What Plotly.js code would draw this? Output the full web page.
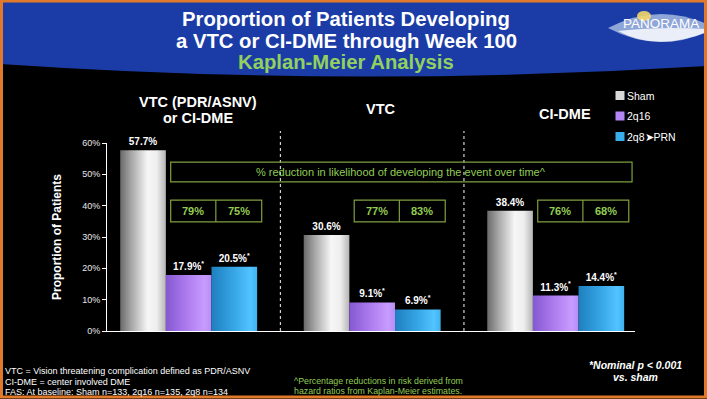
<!DOCTYPE html>
<html><head><meta charset="utf-8">
<script src="https://cdn.plot.ly/plotly-3.0.1.min.js"></script>
<style>html,body{margin:0;padding:0;background:#000;overflow:hidden}#chart{width:707px;height:399px}</style>
</head><body><div id="chart"></div>
<script>
// ---------- data ----------
const categories = ['VTC (PDR/ASNV)<br>or CI-DME', 'VTC', 'CI-DME'];
const seriesNames = ['Sham', '2q16', '2q8\u27A4PRN'];
const shamValues = [57.7, 30.6, 38.4];
const q16Values = [17.9, 9.1, 11.3];
const q8Values = [20.5, 6.9, 14.4];
const reduction2q16 = [79, 77, 76];
const reduction2q8 = [75, 83, 68];
const yTickVals = [0, 10, 20, 30, 40, 50, 60];
const yTickText = ['0%', '10%', '20%', '30%', '40%', '50%', '60%'];
const titleLines = ['Proportion of Patients Developing', 'a VTC or CI-DME through Week 100'];
const subTitle = 'Kaplan-Meier Analysis';
const boxHeader = '% reduction in likelihood of developing the event over time^';
const footLeft = ['VTC = Vision threatening complication defined as PDR/ASNV', 'CI-DME = center involved DME', 'FAS: At baseline: Sham n=133, 2q16 n=135, 2q8 n=134'];
const footMid = ['^Percentage reductions in risk derived from', 'hazard ratios from Kaplan-Meier estimates.'];
const footRight = ['*Nominal p < 0.001', 'vs. sham'];

// ---------- geometry ----------
const W = 707, H = 399;
const L = 107, R = 635, T = 143, B = 331;
const xr = [-0.445, 2.432];
const px = x => (x - L) / (R - L);
const py = y => (B - y) / (B - T);
const dx = c => (c - xr[0]) / (xr[1] - xr[0]);
const FONT = 'Liberation Sans, Arial, sans-serif';
const GREEN = '#92cc55';
const BOXLINE = '#7f9f40';

const fmt = (v, star) => '<b>' + v.toFixed(1) + '%' + (star ? '<sup>*</sup>' : '') + '</b>';
const mk = (vals, name, color, star, grp) => ({
  type: 'bar', x: categories, y: vals, name: name, legendgroup: grp,
  marker: {color: color, line: {width: 0}},
  text: vals.map(v => fmt(v, star)), textposition: 'outside', cliponaxis: false,
  textfont: {family: FONT, size: 10, color: '#ffffff'}, hoverinfo: 'skip'
});
const data = [
  mk(shamValues, seriesNames[0], '#d9d9d9', false, 'a'),
  mk(q16Values, seriesNames[1], '#b287f5', true, 'b'),
  mk(q8Values, seriesNames[2], '#3aaeea', true, 'c')
];

const shapes = [];
// header band
shapes.push({type: 'path', xref: 'paper', yref: 'paper', layer: 'below',
  path: `M${px(0)},${py(0)} L${px(707)},${py(0)} L${px(707)},${py(66)} Q${px(353)},${py(88)} ${px(0)},${py(64)} Z`,
  fillcolor: '#1b3ca6', line: {width: 0}});
// logo lens
shapes.push({type: 'path', xref: 'paper', yref: 'paper', layer: 'below',
  path: `M${px(608)},${py(28)} Q${px(657)},${py(2)} ${px(707)},${py(24)} L${px(707)},${py(32)} Q${px(657)},${py(54)} ${px(608)},${py(28)} Z`,
  fillcolor: '#8fa6d8', line: {width: 0}});
shapes.push({type: 'path', xref: 'paper', yref: 'paper', layer: 'below',
  path: `M${px(618)},${py(31)} Q${px(660)},${py(26)} ${px(707)},${py(29)} L${px(707)},${py(32)} Q${px(657)},${py(52)} ${px(618)},${py(31)} Z`,
  fillcolor: '#e9eef8', line: {width: 0}});
shapes.push({type: 'circle', xref: 'paper', yref: 'paper', layer: 'below',
  x0: px(637), x1: px(651), y0: py(21), y1: py(11), fillcolor: '#f3d56a', line: {width: 0}, opacity: 0.9});
// dividers
[0.5, 1.5].forEach(c => shapes.push({type: 'line', xref: 'paper', yref: 'paper',
  x0: dx(c), x1: dx(c), y0: 0, y1: py(131), line: {color: '#cfcfcf', width: 1.2, dash: 'dot'}}));
// green boxes
shapes.push({type: 'rect', xref: 'x', yref: 'y', x0: -0.098, x1: 2.416, y0: 47.6, y1: 53.9,
  line: {color: BOXLINE, width: 1.2}, fillcolor: 'rgba(0,0,0,0)'});
categories.forEach((c, i) => {
  shapes.push({type: 'rect', xref: 'x', yref: 'y', x0: i - 0.098, x1: i + 0.398, y0: 34.8, y1: 41.8,
    line: {color: BOXLINE, width: 1.2}, fillcolor: 'rgba(0,0,0,0)'});
  shapes.push({type: 'line', xref: 'x', yref: 'y', x0: i + 0.148, x1: i + 0.148, y0: 34.8, y1: 41.8,
    line: {color: BOXLINE, width: 1.2}});
});
// orange frame
shapes.push({type: 'rect', xref: 'paper', yref: 'paper', x0: px(1.5), x1: px(705.5), y0: py(1), y1: py(397),
  line: {color: '#e07a2a', width: 3}, fillcolor: 'rgba(0,0,0,0)'});

const ann = [];
const A = (x, y, text, size, color, extra) => ann.push(Object.assign({
  xref: 'paper', yref: 'paper', x: px(x), y: py(y), text: text, showarrow: false,
  xanchor: 'center', yanchor: 'middle', font: {family: FONT, size: size, color: color}
}, extra || {}));
A(346, 19, '<b>' + titleLines[0] + '</b>', 20.3, '#ffffff');
A(346, 41, '<b>' + titleLines[1] + '</b>', 20.3, '#ffffff');
A(346, 62, '<b>' + subTitle + '</b>', 20.3, '#92d060');
A(661, 23, 'PANORAMA', 13.5, '#ffffff');
// category headings
const catY = [[102, 118], [109], [114]];
categories.forEach((c, i) => {
  c.split('<br>').forEach((line, k) => ann.push({xref: 'x', yref: 'paper', x: i + 0.05, y: py(catY[i][k]),
    text: '<b>' + line + '</b>', showarrow: false, xanchor: 'center', yanchor: 'middle',
    font: {family: FONT, size: 14.5, color: '#ffffff'}}));
  ann.push({xref: 'x', yref: 'y', x: i + 0.025, y: 38.3, text: '<b>' + reduction2q16[i] + '%</b>', showarrow: false,
    font: {family: FONT, size: 11, color: GREEN}});
  ann.push({xref: 'x', yref: 'y', x: i + 0.273, y: 38.3, text: '<b>' + reduction2q8[i] + '%</b>', showarrow: false,
    font: {family: FONT, size: 11, color: GREEN}});
});
ann.push({xref: 'x', yref: 'y', x: 1.159, y: 50.75, text: boxHeader, showarrow: false,
  font: {family: FONT, size: 11, color: GREEN}});
footLeft.forEach((t, k) => A(3, 371 + k * 10.5, t, 9, '#ffffff', {xanchor: 'left'}));
footMid.forEach((t, k) => A(292, 380.5 + k * 10, t, 8.8, GREEN, {xanchor: 'left'}));
footRight.forEach((t, k) => A(635, 365 + k * 11.5, '<b><i>' + t + '</i></b>', 10.5, '#ffffff'));

const layout = {
  width: W, height: H, margin: {l: L, r: W - R, t: T, b: H - B, pad: 0},
  paper_bgcolor: '#000000', plot_bgcolor: '#000000',
  barmode: 'group', bargap: 0.254, bargroupgap: 0,
  showlegend: true,
  legend: {x: px(598), y: py(81), xanchor: 'left', yanchor: 'top', bgcolor: 'rgba(0,0,0,0)',
    font: {family: FONT, size: 10.5, color: '#ffffff'}, traceorder: 'grouped', tracegroupgap: 1.5},
  xaxis: {range: xr, showticklabels: false, ticks: '', showgrid: false, zeroline: false,
    showline: true, linecolor: '#ffffff', linewidth: 1, fixedrange: true},
  yaxis: {range: [0, 60], tickvals: yTickVals, ticktext: yTickText, ticks: 'outside', ticklen: 4,
    tickcolor: '#ffffff', showgrid: false, zeroline: false, showline: true, linecolor: '#ffffff', linewidth: 1,
    tickfont: {family: FONT, size: 9, color: '#e8e8e8'},
    title: {text: '<b>Proportion of Patients</b>', font: {family: FONT, size: 12, color: '#ffffff'}, standoff: 17}},
  shapes: shapes, annotations: ann
};

Plotly.newPlot('chart', data, layout, {displayModeBar: false, staticPlot: true}).then(gd => {
  const ns = 'http://www.w3.org/2000/svg';
  const svg = gd.querySelector('svg.main-svg');
  let defs = svg.querySelector('defs');
  if (!defs) { defs = document.createElementNS(ns, 'defs'); svg.insertBefore(defs, svg.firstChild); }
  const grads = {
    gSham: [[0, '#6a6a6a'], [0.25, '#a8a8a8'], [0.6, '#f6f6f6'], [0.8, '#eeeeee'], [1, '#b5b5b5']],
    gQ16: [[0, '#8558d2'], [0.5, '#b07ff0'], [0.85, '#c79cff'], [1, '#b98cf5']],
    gQ8: [[0, '#1f7fbf'], [0.5, '#37a6e6'], [0.85, '#52c4ff'], [1, '#3fb2f0']]
  };
  Object.keys(grads).forEach(id => {
    const g = document.createElementNS(ns, 'linearGradient');
    g.setAttribute('id', id); g.setAttribute('x1', '0'); g.setAttribute('x2', '1'); g.setAttribute('y1', '0'); g.setAttribute('y2', '0');
    grads[id].forEach(s => { const st = document.createElementNS(ns, 'stop');
      st.setAttribute('offset', s[0]); st.setAttribute('stop-color', s[1]); g.appendChild(st); });
    defs.appendChild(g);
  });
  const ids = ['gSham', 'gQ16', 'gQ8'];
  gd.querySelectorAll('.barlayer .trace').forEach((t, i) => {
    t.querySelectorAll('.point path').forEach(p => { p.style.fill = 'url(#' + ids[i] + ')'; });
  });
  // tighten legend swatch / text spacing to match the reference
  const root = gd.getBoundingClientRect();
  gd.querySelectorAll('.legend .traces').forEach(item => {
    const path = item.querySelector('.legendpoints path');
    const txt = item.querySelector('text.legendtext');
    if (path) {
      path.setAttribute('d', 'M4.5,4.5H-4.5V-4.5H4.5Z');
      const r = path.getBoundingClientRect();
      const delta = 620 - (r.left - root.left + r.width / 2);
      const gp = item.querySelector('.legendpoints');
      gp.setAttribute('transform', ((gp.getAttribute('transform') || '') + ' translate(' + delta + ',0)').trim());
    }
    if (txt) {
      const r = txt.getBoundingClientRect();
      const d2 = 627 - (r.left - root.left);
      txt.setAttribute('x', (parseFloat(txt.getAttribute('x')) || 0) + d2);
      txt.querySelectorAll('tspan[x]').forEach(ts => ts.setAttribute('x', (parseFloat(ts.getAttribute('x')) || 0) + d2));
    }
  });
});
</script></body></html>
